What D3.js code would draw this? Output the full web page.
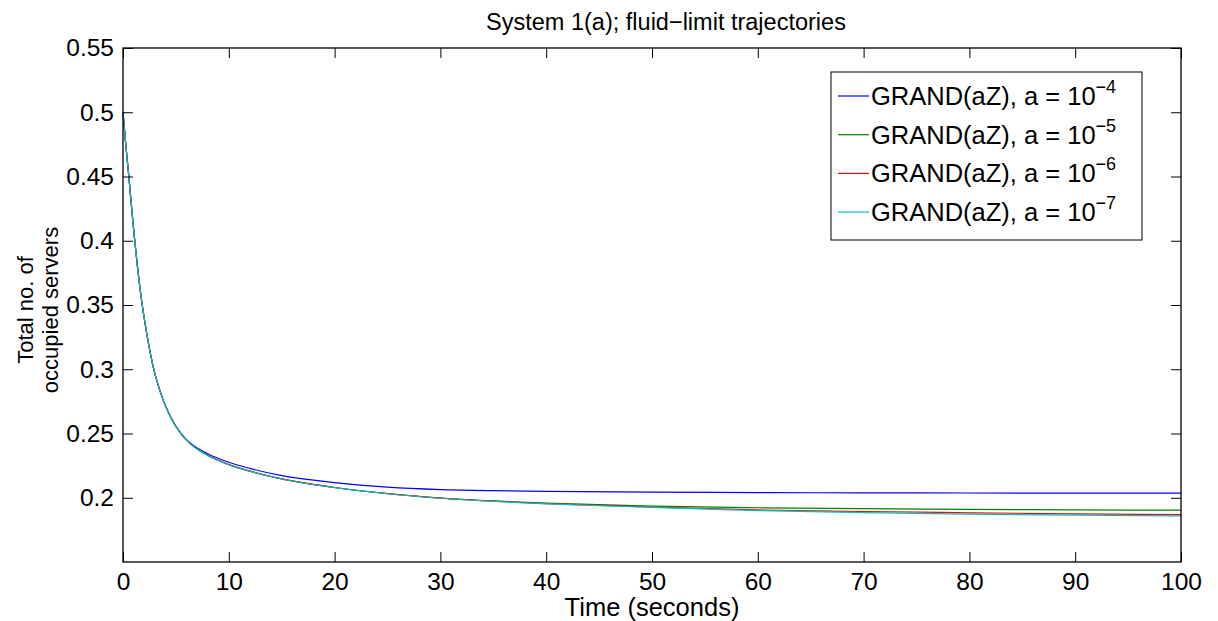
<!DOCTYPE html>
<html>
<head>
<meta charset="utf-8">
<script src="https://cdn.jsdelivr.net/npm/d3@7"></script>
<style>
  html, body { margin: 0; padding: 0; background: #fff; }
  svg { display: block; font-family: "Liberation Sans", Arial, Helvetica, sans-serif; }
</style>
</head>
<body>
<svg id="chart" width="1218" height="621"></svg>
<script>
const titleText = "System 1(a); fluid\u2212limit trajectories";
const xLabel = "Time (seconds)";
const yLabelLines = ["Total no. of", "occupied servers"];
const xTicks = [0, 10, 20, 30, 40, 50, 60, 70, 80, 90, 100];
const yTicks = [0.2, 0.25, 0.3, 0.35, 0.4, 0.45, 0.5, 0.55];
const seriesNames = ["GRAND(aZ), a = 10|\u22124", "GRAND(aZ), a = 10|\u22125", "GRAND(aZ), a = 10|\u22126", "GRAND(aZ), a = 10|\u22127"];
const seriesColors = ["#0000ff", "#008000", "#ff0000", "#00bfbf"];

const time = [0, 0.25, 0.55, 0.8, 1.05, 1.35, 1.7, 2.2, 2.85, 3.5, 4.28, 5, 5.5, 6, 6.8, 8, 10, 12, 15, 20, 25, 30, 35, 40, 50, 60, 70, 80, 90, 100];
const a4 = [0.5, 0.476, 0.45, 0.427, 0.405, 0.381, 0.357, 0.330, 0.302, 0.283, 0.2665, 0.2556, 0.2499, 0.2452, 0.2398, 0.2342, 0.2276, 0.2228, 0.2172, 0.2118, 0.2083, 0.2064, 0.2055, 0.2050, 0.2044, 0.2040, 0.2038, 0.2037, 0.2036, 0.2036];
const a5 = [0.5, 0.476, 0.45, 0.427, 0.405, 0.381, 0.357, 0.330, 0.302, 0.283, 0.2665, 0.2555, 0.2497, 0.2448, 0.2392, 0.2330, 0.2258, 0.2207, 0.2147, 0.2080, 0.2033, 0.1998, 0.1975, 0.1958, 0.1935, 0.1922, 0.1915, 0.1910, 0.1906, 0.1903];
const a6 = [0.5, 0.476, 0.45, 0.427, 0.405, 0.381, 0.357, 0.330, 0.302, 0.283, 0.2665, 0.2555, 0.2497, 0.2448, 0.2392, 0.2330, 0.2258, 0.2207, 0.2147, 0.2080, 0.2032, 0.1997, 0.1973, 0.1955, 0.1928, 0.1905, 0.1893, 0.1883, 0.1875, 0.1869];
const a7 = [0.5, 0.476, 0.45, 0.427, 0.405, 0.381, 0.357, 0.330, 0.302, 0.283, 0.2665, 0.2555, 0.2497, 0.2448, 0.2391, 0.2329, 0.2257, 0.2206, 0.2146, 0.2079, 0.2031, 0.1996, 0.1972, 0.1953, 0.1925, 0.1900, 0.1885, 0.1873, 0.1865, 0.1859];
const allSeries = [a4, a5, a6, a7];

const svg = d3.select("#chart");
const L = 123, R = 1181, T = 48, B = 562;
const x = d3.scaleLinear().domain([0, 100]).range([L, R]);
const y = d3.scaleLinear().domain([0.15, 0.55]).range([B, T]);
const font = 24.5;

// curves
const line = d3.line().x((d, i) => x(time[i])).y(d => y(d)).curve(d3.curveMonotoneX);
allSeries.forEach((s, k) => {
  svg.append("path").datum(s).attr("d", line)
    .attr("fill", "none").attr("stroke", seriesColors[k]).attr("stroke-width", 1.2);
});

// axes with inward ticks
const tl = 10;
const gB = svg.append("g").attr("transform", `translate(0,${B})`)
  .call(d3.axisBottom(x).tickValues(xTicks).tickSizeInner(-tl).tickSizeOuter(0).tickPadding(11).tickFormat(d3.format("d")));
const gT = svg.append("g").attr("transform", `translate(0,${T})`)
  .call(d3.axisTop(x).tickValues(xTicks).tickSizeInner(-tl).tickSizeOuter(0).tickFormat(""));
const gL = svg.append("g").attr("transform", `translate(${L},0)`)
  .call(d3.axisLeft(y).tickValues(yTicks).tickSizeInner(-tl).tickSizeOuter(0).tickPadding(9).tickFormat(d => String(+d.toFixed(2))));
const gR = svg.append("g").attr("transform", `translate(${R},0)`)
  .call(d3.axisRight(y).tickValues(yTicks).tickSizeInner(-tl).tickSizeOuter(0).tickFormat(""));
[gB, gT, gL, gR].forEach(g => {
  g.selectAll(".domain").remove();
  g.selectAll(".tick line").attr("stroke", "#000").attr("stroke-width", 1);
  g.selectAll("text").attr("font-size", font + "px").attr("fill", "#000").attr("font-family", "Liberation Sans, Arial, sans-serif");
});
gB.selectAll("text").attr("dy", "0.71em");
svg.append("rect").attr("x", L).attr("y", T).attr("width", R - L).attr("height", B - T)
  .attr("fill", "none").attr("stroke", "#000").attr("stroke-width", 1.3);

// title and labels
svg.append("text").attr("x", 666).attr("y", 30).attr("text-anchor", "middle")
  .attr("font-size", "23.5px").text(titleText);
svg.append("text").attr("x", 652).attr("y", 616).attr("text-anchor", "middle")
  .attr("font-size", "25.5px").text(xLabel);
yLabelLines.forEach((t, i) => {
  svg.append("text").attr("transform", `translate(${33 + i * 25},310) rotate(-90)`)
    .attr("text-anchor", "middle").attr("font-size", "22px").text(t);
});

// legend
const lg = svg.append("g");
lg.append("rect").attr("x", 831).attr("y", 72).attr("width", 311).attr("height", 168)
  .attr("fill", "#fff").attr("stroke", "#000").attr("stroke-width", 1);
seriesNames.forEach((n, i) => {
  const cy = 96 + i * 38.7;
  const [main, sup] = n.split("|");
  lg.append("line").attr("x1", 838).attr("x2", 869).attr("y1", cy).attr("y2", cy)
    .attr("stroke", seriesColors[i]).attr("stroke-width", 1.2);
  const t = lg.append("text").attr("x", 871).attr("y", cy + 9).attr("font-size", "25.5px");
  t.append("tspan").text(main);
  t.append("tspan").attr("dy", -12).attr("font-size", "18px").text(sup);
});
</script>
</body>
</html>
